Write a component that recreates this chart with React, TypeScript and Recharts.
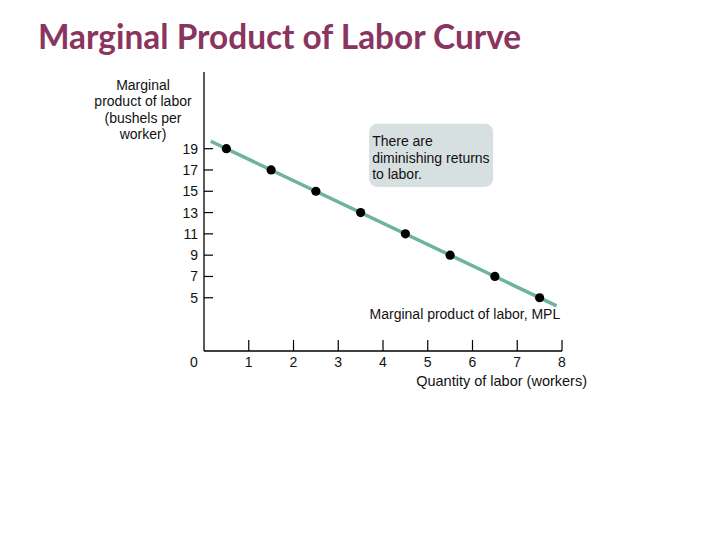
import React from "react";
import {
  ComposedChart,
  Line,
  Scatter,
  XAxis,
  YAxis,
  ReferenceArea,
  ReferenceDot,
} from "recharts";

// ---- data ----
const workers = [0.5, 1.5, 2.5, 3.5, 4.5, 5.5, 6.5, 7.5];
const mplValues = [19, 17, 15, 13, 11, 9, 7, 5];
const curveX = [0.15, 7.88];
const curveY = [19.7, 4.24];
const xTicks = [0, 1, 2, 3, 4, 5, 6, 7, 8];
const yTicks = [5, 7, 9, 11, 13, 15, 17, 19];
const yLabelLines = ["Marginal", "product of labor", "(bushels per", "worker)"];
const noteLines = ["There are", "diminishing returns", "to labor."];
const curveName = "Marginal product of labor, MPL";
const xAxisName = "Quantity of labor (workers)";
const title = "Marginal Product of Labor Curve";

const points = workers.map((x, i) => ({ x, y: mplValues[i] }));
const curve = curveX.map((x, i) => ({ x, y: curveY[i] }));

const FONT = "'Liberation Sans', Arial, sans-serif";
const LINE_COLOR = "#6db49b";
const FS = 14;

const XTick = (props: any) => {
  const { x, y, payload } = props;
  const v = payload.value;
  return (
    <g>
      {v !== 0 && <line x1={x} y1={y} x2={x} y2={y - 11} stroke="#000" strokeWidth={1.2} />}
      <text
        x={v === 0 ? x - 10 : x}
        y={y + 16}
        textAnchor="middle"
        fontFamily={FONT}
        fontSize={FS}
        fill="#111"
      >
        {v}
      </text>
    </g>
  );
};

const YTick = (props: any) => {
  const { x, y, payload } = props;
  return (
    <g>
      <line x1={x} y1={y} x2={x + 9} y2={y} stroke="#000" strokeWidth={1.2} />
      <text x={x - 6} y={y + 5} textAnchor="end" fontFamily={FONT} fontSize={FS} fill="#111">
        {payload.value}
      </text>
    </g>
  );
};

const YLabel = (props: any) => {
  const vb = props.viewBox;
  return (
    <text x={vb.x - 1} y={vb.y + 18} textAnchor="middle" fontFamily={FONT} fontSize={FS} fill="#111">
      {yLabelLines.map((l, i) => (
        <tspan key={i} x={vb.x - 1} dy={i === 0 ? 0 : 16.3}>
          {l}
        </tspan>
      ))}
    </text>
  );
};

const XLabel = (props: any) => {
  const vb = props.viewBox;
  return (
    <text
      x={vb.x + vb.width + 25}
      y={vb.y + 35}
      textAnchor="end"
      fontFamily={FONT}
      fontSize={14.5}
      fill="#111"
    >
      {xAxisName}
    </text>
  );
};

const NoteLabel = (props: any) => {
  const vb = props.viewBox;
  return (
    <text x={vb.x + 3} y={vb.y + 22.5} fontFamily={FONT} fontSize={FS} fill="#111">
      {noteLines.map((l, i) => (
        <tspan key={i} x={vb.x + 3} dy={i === 0 ? 0 : 16.5}>
          {l}
        </tspan>
      ))}
    </text>
  );
};

const CurveLabel = (props: any) => {
  const vb = props.viewBox;
  return (
    <text x={vb.x} y={vb.y + 5} textAnchor="end" fontFamily={FONT} fontSize={FS} fill="#111">
      {curveName}
    </text>
  );
};

export default function App() {
  return (
    <div style={{ position: "absolute", left: 0, top: 0, width: 720, height: 540, background: "#fff" }}>
      <div
        style={{
          position: "absolute",
          left: 38,
          top: 15,
          fontFamily: "Lato, 'Open Sans', sans-serif",
          fontWeight: 700,
          fontSize: 33.4,
          color: "#8a355f",
          whiteSpace: "nowrap",
          lineHeight: "42px",
        }}
      >
        {title}
      </div>
      <ComposedChart
        width={720}
        height={540}
        margin={{ top: 72, right: 158, bottom: 149, left: 144 }}
      >
        <XAxis
          type="number"
          dataKey="x"
          domain={[0, 8]}
          ticks={xTicks}
          interval={0}
          allowDataOverflow
          tickLine={false}
          tickSize={0}
          tickMargin={0}
          height={40}
          axisLine={{ stroke: "#000", strokeWidth: 1.3 }}
          tick={<XTick />}
          label={{ content: <XLabel /> }}
        />
        <YAxis
          type="number"
          dataKey="y"
          domain={[0, 26.2]}
          ticks={yTicks}
          interval={0}
          allowDataOverflow
          tickLine={false}
          tickSize={0}
          tickMargin={0}
          width={60}
          axisLine={{ stroke: "#000", strokeWidth: 1.3 }}
          tick={<YTick />}
          label={{ content: <YLabel /> }}
        />
        <ReferenceArea
          x1={3.69}
          x2={6.46}
          y1={15.41}
          y2={21.33}
          fill="#d7e0e1"
          fillOpacity={1}
          stroke="none"
          radius={8}
          label={{ content: <NoteLabel /> }}
        />
        <ReferenceDot
          x={7.96}
          y={3.5}
          r={0}
          fill="none"
          stroke="none"
          ifOverflow="visible"
          label={{ content: <CurveLabel /> }}
        />
        <Line
          data={curve}
          dataKey="y"
          type="linear"
          stroke={LINE_COLOR}
          strokeWidth={3.5}
          dot={false}
          activeDot={false}
          isAnimationActive={false}
        />
        <Scatter data={points} dataKey="y" fill="#000" isAnimationActive={false} shape={(p: any) => <circle cx={p.cx} cy={p.cy} r={4.6} fill="#000" />} />
      </ComposedChart>
    </div>
  );
}
